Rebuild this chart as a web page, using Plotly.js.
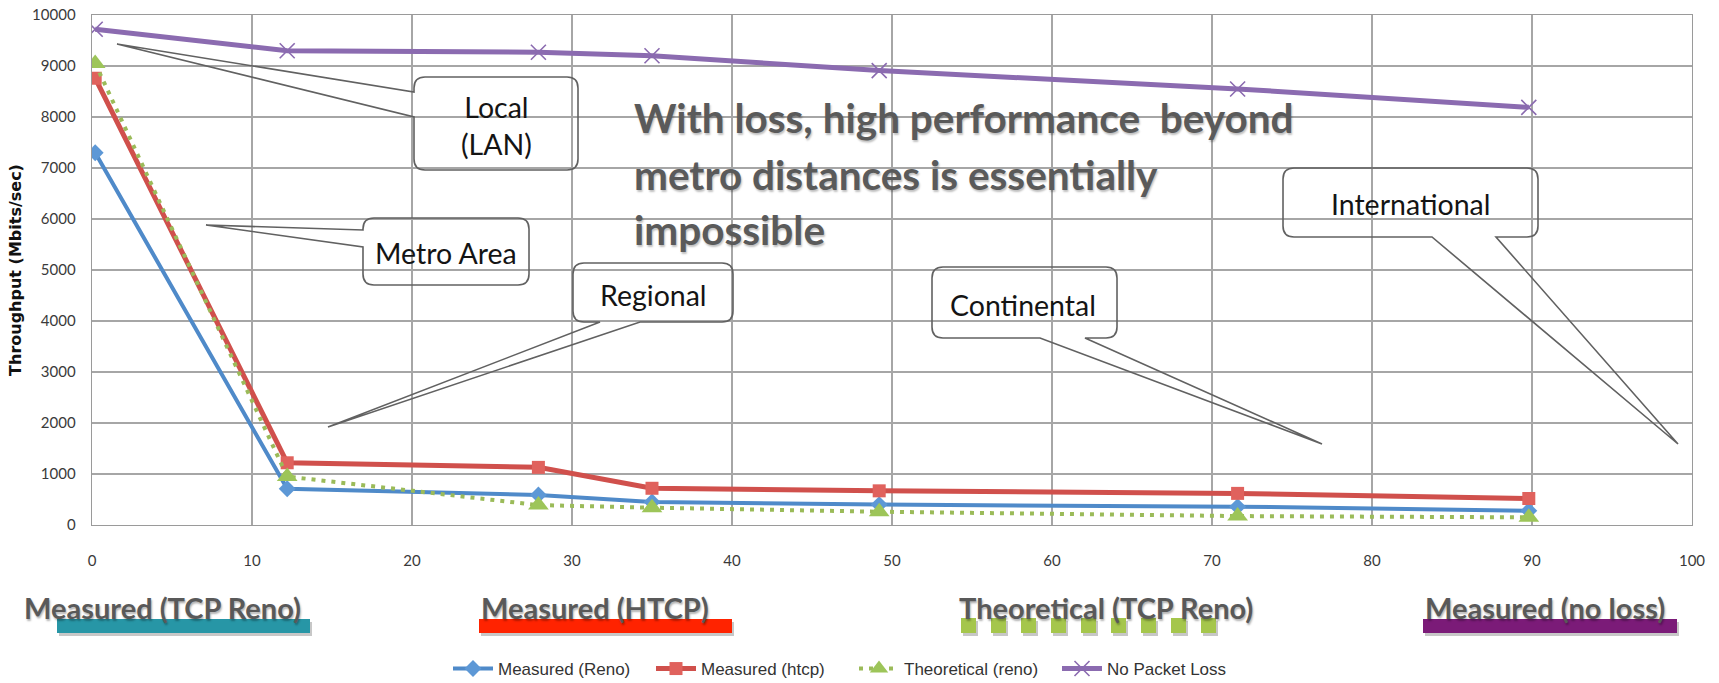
<!DOCTYPE html>
<html><head><meta charset="utf-8">
<script src="https://cdn.plot.ly/plotly-3.0.1.min.js"></script>
<style>html,body{margin:0;padding:0;background:#fff}#chart{width:1719px;height:683px}</style>
</head><body><div id="chart"></div>
<script>
// ---- data ----
const rtt = [0.2, 12.2, 27.9, 35.0, 49.2, 71.6, 89.8];
const measuredReno = [7300, 710, 590, 450, 400, 360, 280];
const measuredHtcp = [8760, 1220, 1130, 720, 670, 620, 520];
const theoreticalReno = [9050, 950, 390, 340, 260, 175, 150];
const noPacketLoss = [9720, 9300, 9270, 9200, 8910, 8550, 8190];
const seriesNames = ['Measured (Reno)', 'Measured (htcp)', 'Theoretical (reno)', 'No Packet Loss'];
const xTicks = [0, 10, 20, 30, 40, 50, 60, 70, 80, 90, 100];
const yTicks = [0, 1000, 2000, 3000, 4000, 5000, 6000, 7000, 8000, 9000, 10000];
const yTitle = 'Throughput (Mbits/sec)';
const calloutLabels = ['Local<br>(LAN)', 'Metro Area', 'Regional', 'Continental', 'International'];
const headline = ['With loss, high performance\u00a0 beyond', 'metro distances is essentially', 'impossible'];
const keyLabels = ['Measured (TCP Reno)', 'Measured (HTCP)', 'Theoretical (TCP Reno)', 'Measured (no loss)'];

// ---- layout geometry (pixels) ----
const W = 1719, H = 683, L = 92, R = 1692, T = 15, B = 525;
const PW = R - L, PH = B - T;
const px = X => (X - L) / PW;
const py = Y => (B - Y) / PH;
const P = (X, Y) => px(X).toFixed(5) + ',' + py(Y).toFixed(5);

const calloutGeom = [
  {box: [414, 77, 578, 170], side: 'left', base: [92, 117], tip: [117, 44], text: [496, 125]},
  {box: [363, 218, 529, 285], side: 'left', base: [230, 247], tip: [206, 225], text: [446, 253]},
  {box: [573, 263, 733, 322], side: 'bottom', base: [600, 640], tip: [328, 427], text: [653, 295]},
  {box: [932, 267, 1117, 338], side: 'bottom', base: [1040, 1085], tip: [1322, 444], text: [1023, 305]},
  {box: [1283, 168, 1538, 237], side: 'bottom', base: [1432, 1496], tip: [1678, 444], text: [1410, 204]}
];

function calloutPath(g) {
  const [x0, y0, x1, y1] = g.box, r = 11;
  let d = `M ${P(x0 + r, y0)} L ${P(x1 - r, y0)} Q ${P(x1, y0)} ${P(x1, y0 + r)} L ${P(x1, y1 - r)} Q ${P(x1, y1)} ${P(x1 - r, y1)}`;
  if (g.side === 'bottom') d += ` L ${P(g.base[1], y1)} L ${P(g.tip[0], g.tip[1])} L ${P(g.base[0], y1)}`;
  d += ` L ${P(x0 + r, y1)} Q ${P(x0, y1)} ${P(x0, y1 - r)}`;
  if (g.side === 'left') d += ` L ${P(x0, g.base[1])} L ${P(g.tip[0], g.tip[1])} L ${P(x0, g.base[0])}`;
  d += ` L ${P(x0, y0 + r)} Q ${P(x0, y0)} ${P(x0 + r, y0)} Z`;
  return d;
}

const shapes = [];
const annotations = [];

calloutGeom.forEach((g, i) => {
  shapes.push({type: 'path', xref: 'paper', yref: 'paper', path: calloutPath(g),
    line: {color: '#616161', width: 1.6}, fillcolor: 'rgba(0,0,0,0)', layer: 'above'});
  annotations.push({xref: 'paper', yref: 'paper', x: px(g.text[0]), y: py(g.text[1]),
    xanchor: 'center', yanchor: 'middle', text: calloutLabels[i], showarrow: false,
    font: {family: 'Lato, sans-serif', size: 28.5, color: '#141414'}});
});

// headline
const headY = [118, 174, 230];
headline.forEach((t, i) => {
  annotations.push({xref: 'paper', yref: 'paper', x: px(632), y: py(headY[i]), xanchor: 'left', yanchor: 'middle',
    text: '<b>' + t + '</b>', showarrow: false,
    font: {family: 'Lato, sans-serif', size: 40.5, color: '#5a5a5a', shadow: '1px 2px 2px rgba(0,0,0,0.25)'}});
});

// key bars under axis
const keyGeom = [
  {label: [22, 607], bar: [57, 619, 310, 633], color: '#2796a6'},
  {label: [479, 607], bar: [479, 619, 732, 633], color: '#ff2300'},
  {label: [957, 607], squares: {x0: 961, n: 9, pitch: 30, w: 15, y0: 618, y1: 633}, color: '#a5c64c'},
  {label: [1423, 607], bar: [1423, 619, 1677, 633], color: '#7b1b78'}
];
function rectShape(x0, y0, x1, y1, color, opacity) {
  return {type: 'rect', xref: 'paper', yref: 'paper', x0: px(x0), x1: px(x1), y0: py(y1), y1: py(y0),
    fillcolor: color, opacity: opacity, line: {width: 0}, layer: 'above'};
}
keyGeom.forEach((k, i) => {
  if (k.bar) {
    const [x0, y0, x1, y1] = k.bar;
    shapes.push(rectShape(x0 + 2, y0 + 3, x1 + 2, y1 + 3, '#000', 0.22));
    shapes.push(rectShape(x0, y0, x1, y1, k.color, 1));
  } else {
    const s = k.squares;
    for (let j = 0; j < s.n; j++) {
      const x0 = s.x0 + j * s.pitch;
      shapes.push(rectShape(x0 + 2, s.y0 + 3, x0 + s.w + 2, s.y1 + 3, '#000', 0.22));
      shapes.push(rectShape(x0, s.y0, x0 + s.w, s.y1, k.color, 1));
    }
  }
  annotations.push({xref: 'paper', yref: 'paper', x: px(k.label[0]), y: py(k.label[1]), xanchor: 'left', yanchor: 'middle',
    text: '<b>' + keyLabels[i] + '</b>', showarrow: false,
    font: {family: 'Lato, sans-serif', size: 29, color: '#595959', shadow: '1px 2px 2px rgba(0,0,0,0.3)'}});
});

// ---- traces ----
const traces = [
  {x: rtt, y: measuredReno, name: seriesNames[0], type: 'scatter', mode: 'lines+markers',
    line: {color: '#4F8AC9', width: 4}, marker: {symbol: 'diamond', size: 13, color: '#5d98d6'}},
  {x: rtt, y: measuredHtcp, name: seriesNames[1], type: 'scatter', mode: 'lines+markers',
    line: {color: '#D0504C', width: 5}, marker: {symbol: 'square', size: 13, color: '#e0625d'}},
  {x: rtt, y: theoreticalReno, name: seriesNames[2], type: 'scatter', mode: 'lines+markers',
    line: {color: '#9BBB59', width: 4, dash: '4px,6px'}, marker: {symbol: 'triangle-up', size: 18, color: '#9dc559'}},
  {x: rtt, y: noPacketLoss, name: seriesNames[3], type: 'scatter', mode: 'lines+markers',
    line: {color: '#8B6BB0', width: 5}, marker: {symbol: 'x-thin', size: 15, color: '#8B6BB0', line: {width: 1.6, color: '#8B6BB0'}}}
];

const axisFont = {family: 'Lato, sans-serif', size: 15, color: '#3a3a3a'};
const layout = {
  width: W, height: H,
  margin: {l: L, r: W - R, t: T, b: H - B, pad: 0, autoexpand: false},
  paper_bgcolor: '#fff', plot_bgcolor: '#fff',
  showlegend: true,
  legend: {orientation: 'h', x: px(448), y: py(669), xanchor: 'left', yanchor: 'middle',
    font: {family: '"Liberation Sans Narrow", "Liberation Sans", sans-serif', size: 17, color: '#333'},
    bgcolor: 'rgba(0,0,0,0)', itemwidth: 40, entrywidth: 148, entrywidthmode: 'pixels', tracegroupgap: 0},
  hovermode: false,
  xaxis: {range: [0, 100], tickvals: xTicks, ticktext: xTicks.map(String), showgrid: true, gridcolor: '#a6a6a6', gridwidth: 1.4,
    zeroline: false, showline: true, linecolor: '#9a9a9a', linewidth: 1.4, mirror: true, ticks: '',
    ticklabelstandoff: 22, tickfont: axisFont, fixedrange: true},
  yaxis: {range: [0, 10000], tickvals: yTicks, ticktext: yTicks.map(String), showgrid: true, gridcolor: '#a6a6a6', gridwidth: 1.4,
    zeroline: false, showline: true, linecolor: '#9a9a9a', linewidth: 1.4, mirror: true, ticks: '',
    ticklabelstandoff: 12, tickfont: axisFont, fixedrange: true,
    title: {text: yTitle, standoff: 6, font: {family: '"DejaVu Sans", sans-serif', size: 16, color: '#111', weight: 'bold'}}},
  shapes: shapes,
  annotations: annotations
};

Plotly.newPlot('chart', traces, layout, {displayModeBar: false, staticPlot: true});
</script>
</body></html>
